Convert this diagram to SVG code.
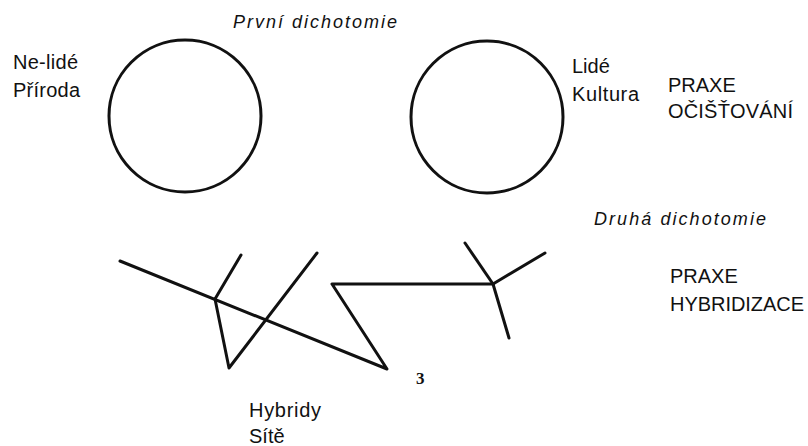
<svg xmlns="http://www.w3.org/2000/svg" width="808" height="446" viewBox="0 0 808 446">
<style>
text{font-family:"Liberation Sans",Arial,sans-serif;font-size:20px;fill:#111}
.it{font-style:italic;font-size:18px}
.num{font-family:"Liberation Serif",serif;font-weight:bold;font-size:17px}
.c{fill:none;stroke:#111;stroke-width:3}
.ln{fill:none;stroke:#111;stroke-width:3;stroke-linecap:round;stroke-linejoin:round}
</style>
<rect width="808" height="446" fill="#fff"/>
<g id="title1"><text class="it" x="233" y="28" textLength="164" lengthAdjust="spacing">První dichotomie</text></g>
<g id="nelide">
<circle class="c" cx="185" cy="116" r="76"/>
<text x="13" y="69" textLength="65" lengthAdjust="spacing">Ne-lidé</text>
<text x="13" y="97" textLength="67" lengthAdjust="spacing">Příroda</text>
</g>
<g id="lide">
<circle class="c" cx="487" cy="117" r="76"/>
<text x="572" y="73">Lidé</text>
<text x="572" y="101" textLength="67" lengthAdjust="spacing">Kultura</text>
</g>
<g id="praxe1">
<text x="668" y="92">PRAXE</text>
<text x="668" y="118" textLength="125" lengthAdjust="spacing">OČIŠŤOVÁNÍ</text>
</g>
<g id="title2"><text class="it" x="594" y="225" textLength="172" lengthAdjust="spacing">Druhá dichotomie</text></g>
<g id="praxe2">
<text x="670" y="283">PRAXE</text>
<text x="670" y="311" textLength="134" lengthAdjust="spacing">HYBRIDIZACE</text>
</g>
<g id="connectors">
<polyline class="ln" points="120,261 387,369 332,284 493,284"/>
<line class="ln" x1="215" y1="299" x2="241" y2="255"/>
<polyline class="ln" points="215,299 229,368 317,253"/>
<line class="ln" x1="493" y1="284" x2="465" y2="243"/>
<line class="ln" x1="493" y1="284" x2="545" y2="253"/>
<line class="ln" x1="493" y1="284" x2="509" y2="338"/>
</g>
<g id="hybridy">
<text class="num" x="416" y="384">3</text>
<text x="249" y="417" textLength="72" lengthAdjust="spacing">Hybridy</text>
<text x="249" y="443">Sítě</text>
</g>
</svg>
